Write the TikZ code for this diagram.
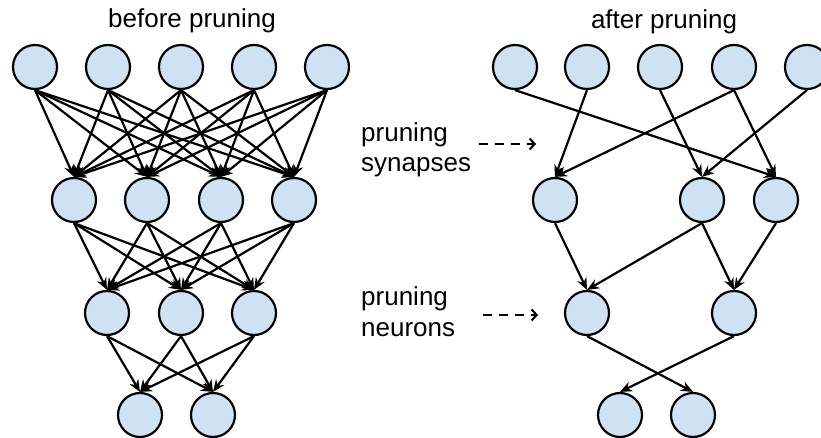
\documentclass[tikz,border=0pt]{standalone}
\usepackage{fontspec}
\setmainfont{Liberation Sans}
\usetikzlibrary{arrows.meta}
\definecolor{neuronfill}{HTML}{CFE2F3}
\tikzset{
  neuron/.style={circle,draw=black,line width=2.2pt,fill=neuronfill,minimum size=44pt,inner sep=0pt},
  syn/.style={line width=2.2pt,-{Stealth[length=12pt,width=10pt,inset=4pt]}},
  lbl/.style={font=\fontsize{26}{30}\selectfont,inner sep=0pt},
  hint/.style={line width=2pt,dash pattern=on 9pt off 7pt,-{Straight Barb[length=5pt,width=11pt]}}
}
\begin{document}
\begin{tikzpicture}[x=1pt,y=-1pt]
\useasboundingbox (0,0) rectangle (821,438);
% left network
\foreach \i/\x in {1/35,2/108,3/181,4/254,5/327}{\node[neuron] (a\i) at (\x,67) {};}
\foreach \i/\x in {1/74,2/147,3/221,4/294}{\node[neuron] (b\i) at (\x,200) {};}
\foreach \i/\x in {1/107,2/181,3/254}{\node[neuron] (c\i) at (\x,313) {};}
\foreach \i/\x in {1/140,2/213}{\node[neuron] (d\i) at (\x,415) {};}
\foreach \i in {1,...,5}{\foreach \j in {1,...,4}{\draw[syn] (a\i.south) -- (b\j.north);}}
\foreach \i in {1,...,4}{\foreach \j in {1,...,3}{\draw[syn] (b\i.south) -- (c\j.north);}}
\foreach \i in {1,...,3}{\foreach \j in {1,2}{\draw[syn] (c\i.south) -- (d\j.north);}}
% right network
\foreach \i/\x in {1/515,2/587,3/660,4/734,5/807}{\node[neuron] (p\i) at (\x,67) {};}
\node[neuron] (q1) at (555,200) {};
\node[neuron] (q2) at (702,200) {};
\node[neuron] (q3) at (776,200) {};
\node[neuron] (r1) at (587,313) {};
\node[neuron] (r2) at (734,313) {};
\node[neuron] (s1) at (620,415) {};
\node[neuron] (s2) at (693,415) {};
\draw[syn] (p1.south) -- (q3.north);
\draw[syn] (p2.south) -- (q1.north);
\draw[syn] (p3.south) -- (q2.north);
\draw[syn] (p4.south) -- (q1.north);
\draw[syn] (p4.south) -- (q3.north);
\draw[syn] (p5.south) -- (q2.north);
\draw[syn] (q1.south) -- (r1.north);
\draw[syn] (q2.south) -- (r1.north);
\draw[syn] (q2.south) -- (r2.north);
\draw[syn] (q3.south) -- (r2.north);
\draw[syn] (r1.south) -- (s2.north);
\draw[syn] (r2.south) -- (s1.north);
% labels
\node[lbl,anchor=base] (tb) at (192,28) {before pruning};
\node[lbl,anchor=base] (ta) at (664,29) {after pruning};
\node[lbl,anchor=base west] (ps1) at (361,142) {pruning};
\node[lbl,anchor=base west] (ps2) at (361,172) {synapses};
\node[lbl,anchor=base west] (pn1) at (361,305) {pruning};
\node[lbl,anchor=base west] (pn2) at (361,336) {neurons};
\coordinate (h1s) at (479,144);
\coordinate (h1e) at (536,144);
\coordinate (h2s) at (483,315);
\coordinate (h2e) at (538,315);
\draw[hint] (h1s) -- (h1e);
\draw[hint] (h2s) -- (h2e);
\end{tikzpicture}
\end{document}
